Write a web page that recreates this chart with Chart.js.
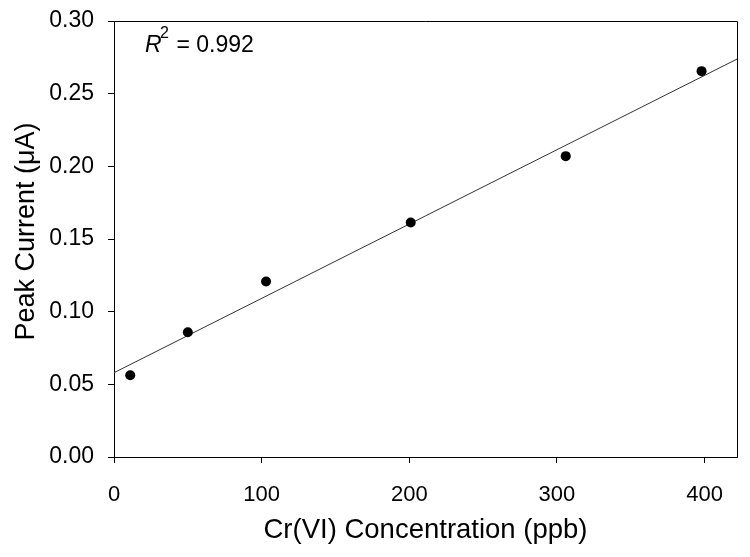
<!DOCTYPE html>
<html>
<head>
<meta charset="utf-8">
<script src="https://cdn.jsdelivr.net/npm/chart.js@4.4.1/dist/chart.umd.min.js"></script>
<style>
html,body{margin:0;padding:0;background:#fff;}
canvas{display:block;}
</style>
</head>
<body>
<canvas id="c" width="750" height="557"></canvas>
<script>
// Data
const concentration = [11, 50, 103, 201, 306, 398];        // Cr(VI), ppb
const peakCurrent   = [0.0562, 0.0858, 0.1208, 0.1614, 0.207, 0.2655]; // µA
const fitX = [0, 422];
const fitY = [0.058, 0.2738];
const xTicks = [0, 100, 200, 300, 400];
const yTicks = [0.00, 0.05, 0.10, 0.15, 0.20, 0.25, 0.30];
const xTitle = 'Cr(VI) Concentration (ppb)';
const yTitle = 'Peak Current (\u03BCA)';
const r2Text = ' = 0.992';

const FONT = '"Liberation Sans", Arial, sans-serif';

const framePlugin = {
  id: 'frame',
  afterDraw(chart) {
    const ctx = chart.ctx, a = chart.chartArea;
    ctx.save();
    ctx.strokeStyle = '#000';
    ctx.lineWidth = 1;
    ctx.beginPath();
    ctx.moveTo(a.left, a.top + 0.5);
    ctx.lineTo(a.right + 0.5, a.top + 0.5);
    ctx.lineTo(a.right + 0.5, a.bottom);
    ctx.stroke();
    // y axis title
    ctx.fillStyle = '#000';
    ctx.font = '27px ' + FONT;
    ctx.textAlign = 'center';
    ctx.textBaseline = 'middle';
    ctx.translate(27, 231.5);
    ctx.rotate(-Math.PI / 2);
    ctx.fillText(yTitle, 0, 0);
    ctx.restore();
    // R^2 annotation
    ctx.save();
    ctx.fillStyle = '#000';
    ctx.textBaseline = 'alphabetic';
    ctx.textAlign = 'left';
    ctx.font = 'italic 23px ' + FONT;
    ctx.fillText('R', 145, 51.5);
    ctx.font = '16px ' + FONT;
    ctx.fillText('2', 160, 38);
    ctx.font = '23px ' + FONT;
    ctx.fillText(r2Text, 170, 51.5);
    ctx.restore();
  }
};

new Chart(document.getElementById('c'), {
  type: 'scatter',
  data: {
    datasets: [
      {
        label: 'fit',
        data: fitX.map((x, i) => ({x: x, y: fitY[i]})),
        showLine: true,
        borderColor: '#333',
        borderWidth: 1,
        pointRadius: 0,
        fill: false,
        order: 2
      },
      {
        label: 'data',
        data: concentration.map((x, i) => ({x: x, y: peakCurrent[i]})),
        showLine: false,
        backgroundColor: '#000',
        borderColor: '#000',
        borderWidth: 0,
        pointRadius: 5,
        order: 1
      }
    ]
  },
  options: {
    responsive: false,
    animation: false,
    layout: { padding: { top: 21, right: 13, left: 0, bottom: 0 } },
    plugins: { legend: { display: false }, tooltip: { enabled: false } },
    scales: {
      x: {
        type: 'linear',
        min: 0,
        max: 422,
        afterFit(s) { s.height = 100; s.paddingLeft = 0; s.paddingRight = 0; },
        afterBuildTicks(s) { s.ticks = xTicks.map(v => ({value: v})); },
        ticks: {
          includeBounds: false,
          color: '#000',
          font: { family: FONT, size: 22 },
          padding: 19,
          maxRotation: 0
        },
        grid: { drawOnChartArea: false, tickLength: 6, color: '#000', lineWidth: 1 },
        border: { display: true, color: '#000', width: 1 },
        title: {
          display: true,
          text: xTitle,
          color: '#000',
          font: { family: FONT, size: 27.5 },
          padding: { top: 0, bottom: 10.5 }
        }
      },
      y: {
        type: 'linear',
        min: 0,
        max: 0.3,
        afterFit(s) { s.width = 114; s.paddingTop = 0; s.paddingBottom = 0; },
        afterBuildTicks(s) { s.ticks = yTicks.map(v => ({value: v})); },
        ticks: {
          includeBounds: false,
          color: '#000',
          font: { family: FONT, size: 23 },
          padding: 14,
          callback: v => Number(v).toFixed(2)
        },
        grid: { drawOnChartArea: false, tickLength: 6, color: '#000', lineWidth: 1 },
        border: { display: true, color: '#000', width: 1 }
      }
    }
  },
  plugins: [framePlugin]
});
</script>
</body>
</html>
